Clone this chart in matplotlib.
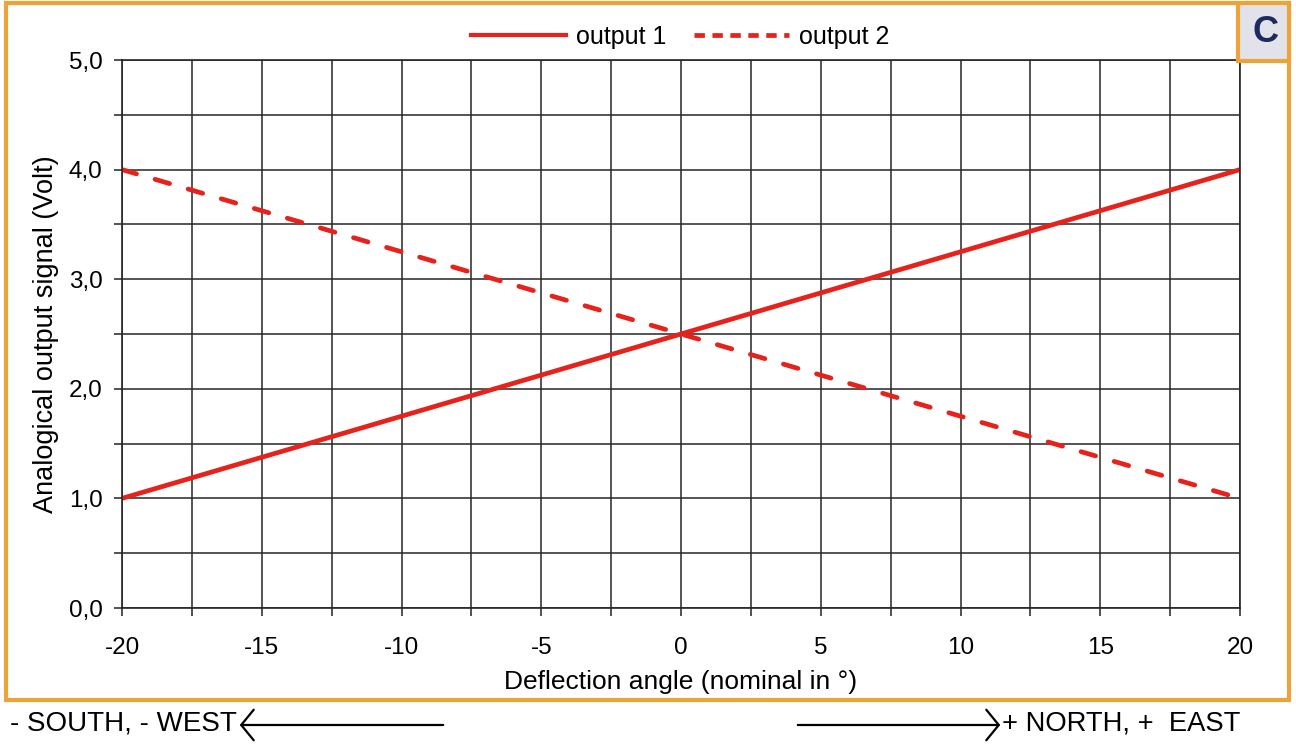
import numpy as np
import matplotlib
matplotlib.use("Agg")
import matplotlib.pyplot as plt
from matplotlib.patches import Rectangle, FancyArrowPatch
from matplotlib.lines import Line2D

plt.rcParams["font.family"] = ["Liberation Sans", "DejaVu Sans"]

# data
angle = [-20, 20]
output1 = [1.0, 4.0]
output2 = [4.0, 1.0]
x_ticks = [-20, -15, -10, -5, 0, 5, 10, 15, 20]
y_ticks = [0.0, 1.0, 2.0, 3.0, 4.0, 5.0]

RED = "#e5221b"
ORANGE = "#eba43a"
GRID = "#262626"

fig = plt.figure(figsize=(12.96, 7.44), dpi=100)
ax = fig.add_axes([122 / 1296, 1 - 608 / 744, 1118 / 1296, 548 / 744])

ax.plot(angle, output1, color=RED, lw=3.4, solid_capstyle="butt")
ax.plot(angle, output2, color=RED, lw=3.4, ls=(0, (3.2, 4.1)), dash_capstyle="round")

ax.set_xlim(-20, 20)
ax.set_ylim(0, 5)
ax.set_xticks(x_ticks)
ax.set_xticklabels([str(v) for v in x_ticks])
ax.set_yticks(y_ticks)
ax.set_yticklabels([f"{v:.1f}".replace(".", ",") for v in y_ticks])
ax.set_xticks(np.arange(-20, 20.1, 2.5), minor=True)
ax.set_yticks(np.arange(0, 5.01, 0.5), minor=True)
ax.grid(True, which="both", color=GRID, lw=1.1)
ax.set_axisbelow(True)
ax.tick_params(which="both", direction="out", length=6, width=1.2, color="#333333")
ax.tick_params(axis="x", which="major", labelsize=17.5, pad=15)
ax.tick_params(axis="y", which="major", labelsize=17.5, pad=8)
for s in ax.spines.values():
    s.set_color(GRID)
    s.set_linewidth(1.2)

ax.set_xlabel("Deflection angle (nominal in °)", fontsize=19)
ax.xaxis.set_label_coords(0.5, -0.113)
ax.set_ylabel("Analogical output signal (Volt)", fontsize=19.5)
ax.yaxis.set_label_coords(-0.0564, 0.5)

handles = [Line2D([], [], color=RED, lw=3.0),
           Line2D([], [], color=RED, lw=3.4, ls=(0, (2.2, 1.6)))]
fig.legend(handles, ["output 1", "output 2"], loc="center",
           bbox_to_anchor=(680 / 1296, 1 - 37 / 744), ncol=2, frameon=False,
           fontsize=18, handlelength=3.8, columnspacing=1.1, handletextpad=0.4)

# orange frame and "C" tag
fig.add_artist(Rectangle((6 / 1296, 1 - 700 / 744), 1283 / 1296, 697 / 744,
                         transform=fig.transFigure, fill=False, ec=ORANGE, lw=3))
fig.add_artist(Rectangle((1238 / 1296, 1 - 61 / 744), 51 / 1296, 58 / 744,
                         transform=fig.transFigure, fc="#e2e2ea", ec=ORANGE, lw=3))
fig.text(1265 / 1296, 1 - 33 / 744, "C", fontsize=26, fontweight="bold",
         color="#1c2a5e", ha="center", va="center")

# direction arrows
fig.text(10 / 1296, 1 - 724 / 744, "- SOUTH, - WEST", fontsize=20, ha="left", va="center")
fig.text(1002 / 1296, 1 - 724 / 744, "+ NORTH, +  EAST", fontsize=19.7, ha="left", va="center")
fig.add_artist(FancyArrowPatch(
    (446 / 1296, 1 - 725 / 744), (237 / 1296, 1 - 725 / 744), transform=fig.transFigure,
    arrowstyle="->,head_length=9,head_width=11", color="black", lw=1.6, mutation_scale=1))
fig.add_artist(FancyArrowPatch(
    (795 / 1296, 1 - 725 / 744), (1003 / 1296, 1 - 725 / 744), transform=fig.transFigure,
    arrowstyle="->,head_length=9,head_width=11", color="black", lw=1.6, mutation_scale=1))

fig.savefig("out.png", dpi=100, facecolor="white")
